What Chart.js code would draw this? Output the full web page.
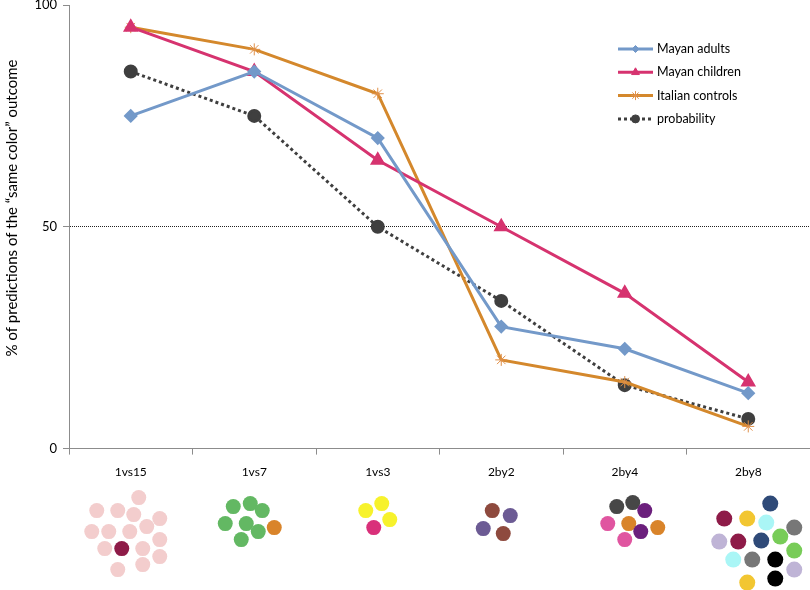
<!DOCTYPE html>
<html>
<head>
<meta charset="utf-8">
<script src="https://cdn.jsdelivr.net/npm/chart.js@4/dist/chart.umd.min.js"></script>
<style>
  html, body { margin: 0; padding: 0; background: #fff; }
  #wrap { width: 810px; height: 590px; position: relative; }
</style>
</head>
<body>
<div id="wrap"><canvas id="chart" width="810" height="590"></canvas></div>
<script>
// categories and series
const categories = ["1vs15", "1vs7", "1vs3", "2by2", "2by4", "2by8"];
const mayanAdults = [75, 85, 70, 27.5, 22.5, 12.5];
const mayanChildren = [95, 85, 65, 50, 35, 15];
const italianControls = [95, 90, 80, 20, 15, 5];
const probability = [85, 75, 50, 33.3, 14.3, 6.7];
const yTicks = [0, 50, 100];
const yTitle = "% of predictions of the \u201csame color\u201d outcome";

// little dot pictures under each category: [dx, dy, colour] from tick centre / axis line
const dotGroups = [
  [[8,49,"#f3cdcd"],[-34,62,"#f3cdcd"],[-13,62,"#f3cdcd"],[3,66,"#f3cdcd"],[29,70,"#f3cdcd"],
   [-39,83,"#f3cdcd"],[-22,83,"#f3cdcd"],[-1,83,"#f3cdcd"],[16,78,"#f3cdcd"],[29,91,"#f3cdcd"],
   [-26,100,"#f3cdcd"],[-9,100,"#8e1b48"],[12,100,"#f3cdcd"],[29,108,"#f3cdcd"],[-13,121,"#f3cdcd"],[12,116,"#f3cdcd"]],
  [[-21,58,"#63b863"],[-4,55,"#63b863"],[8,62,"#63b863"],[-29,75,"#63b863"],[-8,75,"#63b863"],
   [20,79,"#d9842a"],[4,83,"#63b863"],[-13,91,"#63b863"]],
  [[4,55,"#f7f22c"],[-12,62,"#f7f22c"],[12,71,"#f7f22c"],[-4,79,"#d9307a"]],
  [[-9,62,"#8e4a3e"],[9,67,"#6c5b94"],[-18,80,"#6c5b94"],[2,85,"#8e4a3e"]],
  [[-8,58,"#474747"],[8,54,"#474747"],[20,62,"#6b1f7c"],[-17,75,"#e055a0"],[4,75,"#d9842a"],
   [33,79,"#d9842a"],[16,83,"#6b1f7c"],[0,91,"#e055a0"]],
  [[22,55,"#2f4a78"],[-24,70,"#8e1b48"],[-1,70,"#f2c631"],[18,74,"#aaf6f6"],[46,79,"#777777"],
   [-29,93,"#bfb4d6"],[-10,93,"#8e1b48"],[13,92,"#2f4a78"],[32,88,"#78cc58"],[46,102,"#78cc58"],
   [-15,111,"#aaf6f6"],[4,111,"#777777"],[27,111,"#000000"],[46,121,"#bfb4d6"],[27,130,"#000000"],[-1,134,"#f2c631"]]
];

const FONT = "Lato, 'Open Sans', sans-serif";

const dotsPlugin = {
  id: "dots",
  afterDraw(chart) {
    const ctx = chart.ctx;
    const xs = chart.scales.x;
    const base = chart.chartArea.bottom;
    ctx.save();
    dotGroups.forEach((grp, i) => {
      const cx = xs.getPixelForValue(i);
      grp.forEach(d => {
        ctx.beginPath();
        ctx.arc(cx + d[0], base + d[1], i === 5 ? 8 : 7.5, 0, Math.PI * 2);
        ctx.fillStyle = d[2];
        ctx.fill();
      });
    });
    // y axis title, sits a bit above the axis middle in the original
    ctx.translate(12, 208);
    ctx.rotate(-Math.PI / 2);
    ctx.fillStyle = "#000";
    ctx.font = "15px " + FONT;
    ctx.textAlign = "center";
    ctx.textBaseline = "middle";
    ctx.fillText(yTitle, 0, 0);
    ctx.restore();
  }
};

// legend with line + marker like the original
const legendPlugin = {
  id: "lineLegend",
  afterDraw(chart) {
    const ctx = chart.ctx;
    const x0 = 618, x1 = 653, y0 = 49, gap = 23.3;
    ctx.save();
    chart.data.datasets.forEach((ds, i) => {
      const y = y0 + i * gap;
      ctx.beginPath();
      ctx.lineWidth = ds.borderWidth;
      ctx.strokeStyle = ds.borderColor;
      ctx.setLineDash(ds.borderDash || []);
      ctx.moveTo(x0, y);
      ctx.lineTo(x1, y);
      ctx.stroke();
      ctx.setLineDash([]);
      ctx.fillStyle = ds.pointBackgroundColor;
      ctx.strokeStyle = ds.pointBorderColor;
      ctx.lineWidth = ds.pointBorderWidth || 1;
      Chart.helpers.drawPoint(ctx, {
        pointStyle: ds.pointStyle,
        radius: ds.pointRadius - 1.5,
        borderWidth: ds.pointBorderWidth || 1,
        rotation: 0
      }, (x0 + x1) / 2, y);
      ctx.fillStyle = "#000";
      ctx.font = "12.5px " + FONT;
      ctx.textBaseline = "middle";
      ctx.fillText(ds.label, x1 + 4, y);
    });
    ctx.restore();
  }
};

new Chart(document.getElementById("chart"), {
  type: "line",
  data: {
    labels: categories,
    datasets: [
      {
        label: "Mayan adults",
        data: mayanAdults,
        borderColor: "#7399c9",
        backgroundColor: "#7399c9",
        pointBackgroundColor: "#7399c9",
        pointBorderColor: "#7399c9",
        borderWidth: 3,
        pointStyle: "rectRot",
        pointRadius: 5
      },
      {
        label: "Mayan children",
        data: mayanChildren,
        borderColor: "#d6336f",
        backgroundColor: "#d6336f",
        pointBackgroundColor: "#d6336f",
        pointBorderColor: "#d6336f",
        borderWidth: 3,
        pointStyle: "triangle",
        pointRadius: 6
      },
      {
        label: "Italian controls",
        data: italianControls,
        borderColor: "#d4882c",
        backgroundColor: "#d4882c",
        pointBackgroundColor: "#d4882c",
        pointBorderColor: "#e0904a",
        borderWidth: 3,
        pointStyle: "star",
        pointRadius: 6,
        pointBorderWidth: 1
      },
      {
        label: "probability",
        data: probability,
        borderColor: "#3f3f3f",
        backgroundColor: "#3f3f3f",
        pointBackgroundColor: "#3f3f3f",
        pointBorderColor: "#3f3f3f",
        borderWidth: 3,
        borderDash: [3, 3],
        pointStyle: "circle",
        pointRadius: 5.5
      }
    ]
  },
  options: {
    responsive: false,
    animation: false,
    layout: { autoPadding: false, padding: { top: 0, right: -3, bottom: 101, left: 0 } },
    plugins: {
      legend: { display: false },
      tooltip: { enabled: false }
    },
    elements: { line: { tension: 0 } },
    scales: {
      x: {
        offset: true,
        grid: {
          offset: true,
          drawOnChartArea: false,
          drawTicks: true,
          tickLength: 6,
          tickColor: "#8c8c8c"
        },
        border: { color: "#8c8c8c", width: 1 },
        ticks: { color: "#000", font: { family: FONT, size: 12 }, padding: 10 }
      },
      y: {
        min: 0,
        max: 100,
        afterBuildTicks: (scale) => { scale.ticks = yTicks.map(v => ({ value: v })); },
        afterFit: (scale) => {
          scale.width = 69;
          scale.paddingTop = 5;
        },
        grid: {
          color: (c) => (c.tick && c.tick.value === 50 ? "#222" : "rgba(0,0,0,0)"),
          lineWidth: 1,
          tickColor: "#8c8c8c",
          tickLength: 6,
          tickBorderDash: []
        },
        border: { color: "#8c8c8c", width: 1, dash: [1, 1] },
        ticks: { color: "#000", font: { family: FONT, size: 13 }, padding: 6 },
        title: { display: false }
      }
    }
  },
  plugins: [dotsPlugin, legendPlugin]
});
</script>
</body>
</html>
